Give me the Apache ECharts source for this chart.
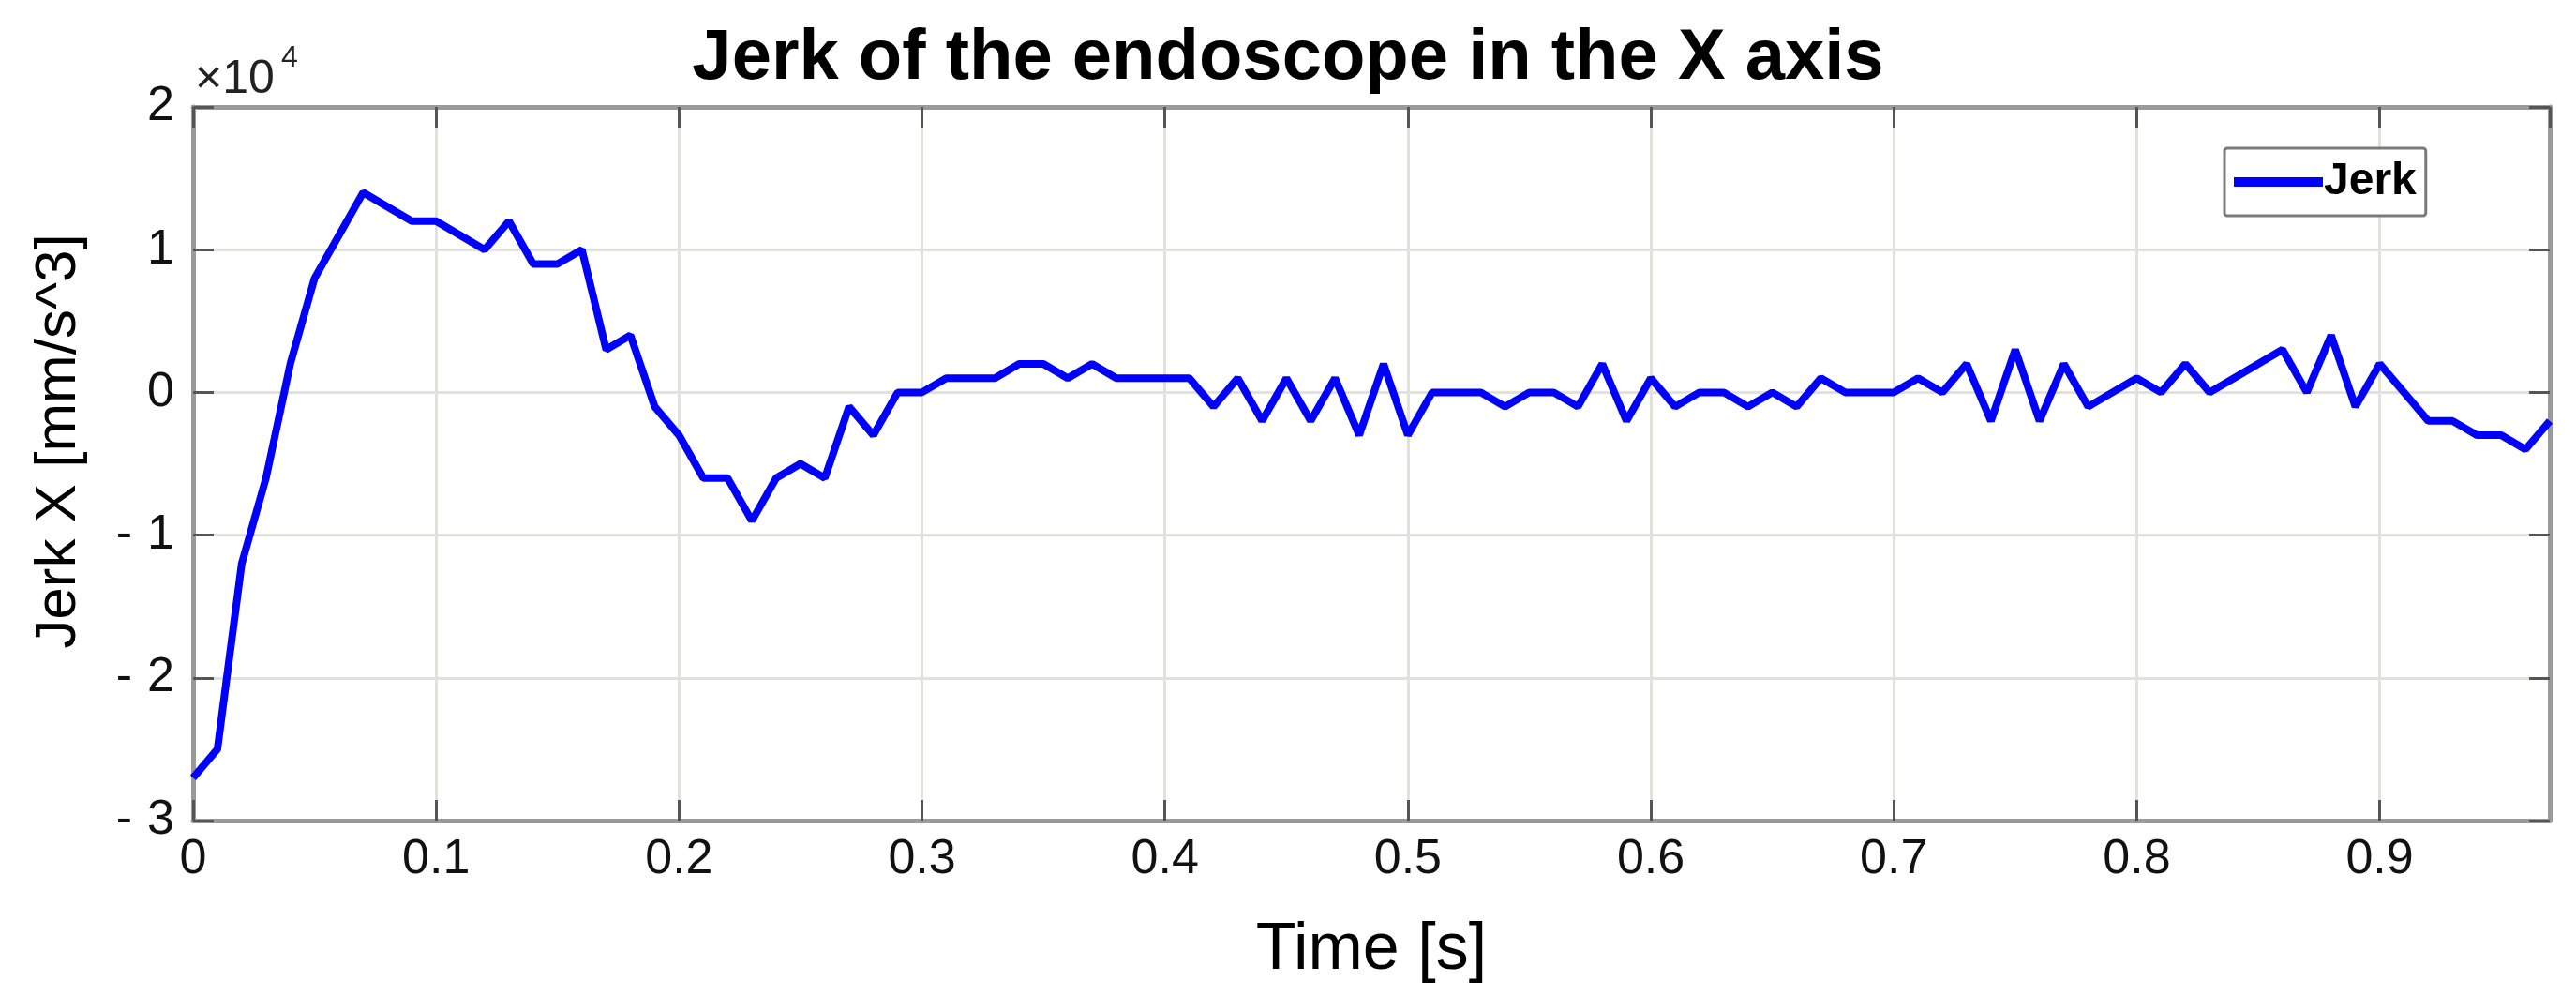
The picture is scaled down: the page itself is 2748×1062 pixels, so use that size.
<!DOCTYPE html>
<html>
<head>
<meta charset="utf-8">
<title>Jerk of the endoscope in the X axis</title>
<script src="https://cdn.jsdelivr.net/npm/echarts@6/dist/echarts.min.js"></script>
<style>
  html, body { margin: 0; padding: 0; background: #fff; }
  #chart { width: 2748px; height: 1062px; }
</style>
</head>
<body>
<div id="chart"></div>
<script>
// time samples [s]
const timeValues = [
  0.00, 0.01, 0.02, 0.03, 0.04, 0.05, 0.06, 0.07, 0.08, 0.09,
  0.10, 0.11, 0.12, 0.13, 0.14, 0.15, 0.16, 0.17, 0.18, 0.19,
  0.20, 0.21, 0.22, 0.23, 0.24, 0.25, 0.26, 0.27, 0.28, 0.29,
  0.30, 0.31, 0.32, 0.33, 0.34, 0.35, 0.36, 0.37, 0.38, 0.39,
  0.40, 0.41, 0.42, 0.43, 0.44, 0.45, 0.46, 0.47, 0.48, 0.49,
  0.50, 0.51, 0.52, 0.53, 0.54, 0.55, 0.56, 0.57, 0.58, 0.59,
  0.60, 0.61, 0.62, 0.63, 0.64, 0.65, 0.66, 0.67, 0.68, 0.69,
  0.70, 0.71, 0.72, 0.73, 0.74, 0.75, 0.76, 0.77, 0.78, 0.79,
  0.80, 0.81, 0.82, 0.83, 0.84, 0.85, 0.86, 0.87, 0.88, 0.89,
  0.90, 0.91, 0.92, 0.93, 0.94, 0.95, 0.96, 0.97
]

// jerk in X [mm/s^3]
const jerkValues = [
  -27000, -25000, -12000, -6000, 2000, 8000, 11000, 14000, 13000, 12000,
  12000, 11000, 10000, 12000, 9000, 9000, 10000, 3000, 4000, -1000,
  -3000, -6000, -6000, -9000, -6000, -5000, -6000, -1000, -3000, 0,
  0, 1000, 1000, 1000, 2000, 2000, 1000, 2000, 1000, 1000,
  1000, 1000, -1000, 1000, -2000, 1000, -2000, 1000, -3000, 2000,
  -3000, 0, 0, 0, -1000, 0, 0, -1000, 2000, -2000,
  1000, -1000, 0, 0, -1000, 0, -1000, 1000, 0, 0,
  0, 1000, 0, 2000, -2000, 3000, -2000, 2000, -1000, 0,
  1000, 0, 2000, 0, 1000, 2000, 3000, 0, 4000, -1000,
  2000, 0, -2000, -2000, -3000, -3000, -4000, -2000
]

const xTickLabels = ['0', '0.1', '0.2', '0.3', '0.4', '0.5', '0.6', '0.7', '0.8', '0.9']
const yTickLabels = ['-3', '-2', '-1', '0', '1', '2']

const font = 'Liberation Sans, Arial, Helvetica, sans-serif'
const boxColor = '#9a9a9a'
const gridColor = '#e2e2dc'

const chart = echarts.init(document.getElementById('chart'))

const seriesData = timeValues.map((t, i) => [t, jerkValues[i]])

const option = {
  backgroundColor: '#fff',
  animation: false,
  title: {
    text: 'Jerk of the endoscope in the X axis',
    left: 'center',
    top: 20,
    textStyle: {
      fontFamily: font,
      fontSize: 76,
      fontWeight: 'bold',
      color: '#000'
    }
  },
  grid: {
    left: 206,
    right: 28,
    top: 114,
    bottom: 187
  },
  legend: {
    data: ['Jerk'],
    left: 2373,
    top: 158,
    orient: 'vertical',
    icon: 'rect',
    itemWidth: 95,
    itemHeight: 10,
    itemGap: 0,
    padding: [12, 10, 12, 10],
    borderColor: '#7a7a7a',
    borderWidth: 3,
    borderRadius: 3,
    backgroundColor: '#fff',
    textStyle: {
      fontFamily: font,
      fontSize: 48,
      fontWeight: 'bold',
      color: '#000',
      padding: [0, 0, 0, -4]
    }
  },
  graphic: [
    {
      type: 'text',
      left: 208,
      top: 60,
      style: {
        text: '×10',
        font: '50px ' + font,
        fill: '#222'
      }
    },
    {
      type: 'text',
      left: 300,
      top: 46,
      style: {
        text: '4',
        font: '32px ' + font,
        fill: '#222'
      }
    }
  ],
  xAxis: [
    {
      type: 'value',
      min: 0,
      max: 0.97,
      interval: 0.1,
      name: 'Time [s]',
      nameLocation: 'middle',
      nameGap: 104,
      nameTextStyle: {
        fontFamily: font,
        fontSize: 70,
        color: '#000'
      },
      axisLine: { show: true, onZero: false, lineStyle: { color: boxColor, width: 5 } },
      axisTick: { show: true, inside: true, length: 22, lineStyle: { color: '#555', width: 3 } },
      splitLine: { show: true, lineStyle: { color: gridColor, width: 3 } },
      axisLabel: {
        fontFamily: font,
        fontSize: 52,
        color: '#111',
        margin: 16,
        showMaxLabel: false,
        formatter: v => {
          const idx = Math.round(v * 10)
          return Math.abs(v * 10 - idx) < 1e-6 ? xTickLabels[idx] : ''
        }
      }
    },
    {
      type: 'value',
      position: 'top',
      min: 0,
      max: 0.97,
      interval: 0.1,
      axisLine: { show: true, onZero: false, lineStyle: { color: boxColor, width: 5 } },
      axisTick: { show: true, inside: true, length: 22, lineStyle: { color: '#555', width: 3 } },
      splitLine: { show: false },
      axisLabel: { show: false }
    }
  ],
  yAxis: [
    {
      type: 'value',
      min: -30000,
      max: 20000,
      interval: 10000,
      name: 'Jerk X [mm/s^3]',
      nameLocation: 'middle',
      nameGap: 112,
      nameTextStyle: {
        fontFamily: font,
        fontSize: 62,
        color: '#000',
        padding: [0, 0, 0, 48]
      },
      axisLine: { show: true, onZero: false, lineStyle: { color: boxColor, width: 5 } },
      axisTick: { show: true, inside: true, length: 22, lineStyle: { color: '#555', width: 3 } },
      splitLine: { show: true, lineStyle: { color: gridColor, width: 3 } },
      axisLabel: {
        fontFamily: font,
        fontSize: 52,
        color: '#111',
        margin: 20,
        formatter: v => {
          const label = yTickLabels[Math.round(v / 10000) + 3]
          if (label.startsWith('-')) return '{m|-}{n|' + label.slice(1) + '}'
          return '{n|' + label + '}'
        },
        rich: {
          m: { fontFamily: font, fontSize: 52, color: '#111', padding: [0, 16, 0, 0] },
          n: { fontFamily: font, fontSize: 52, color: '#111' }
        }
      }
    },
    {
      type: 'value',
      position: 'right',
      min: -30000,
      max: 20000,
      interval: 10000,
      axisLine: { show: true, onZero: false, lineStyle: { color: boxColor, width: 5 } },
      axisTick: { show: true, inside: true, length: 22, lineStyle: { color: '#555', width: 3 } },
      splitLine: { show: false },
      axisLabel: { show: false }
    }
  ],
  series: [
    {
      name: 'Jerk',
      type: 'line',
      xAxisIndex: 0,
      yAxisIndex: 0,
      data: seriesData,
      showSymbol: false,
      color: '#0000ff',
      lineStyle: { color: '#0000ff', width: 8 },
      z: 5
    }
  ]
}

chart.setOption(option)
</script>
</body>
</html>
